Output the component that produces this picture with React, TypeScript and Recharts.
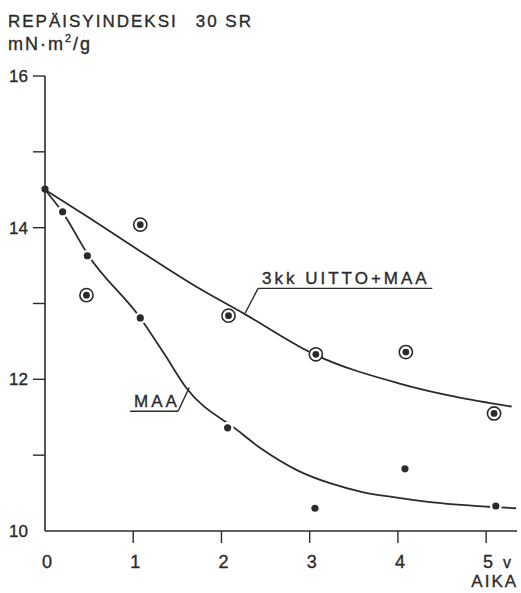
import React from 'react';
import { ComposedChart, Line, Scatter, XAxis, YAxis, ReferenceLine } from 'recharts';

const xTicks = [0, 1, 2, 3, 4, 5];
const yTicks = [10, 11, 12, 13, 14, 15, 16];
const yLabeled = [10, 12, 14, 16];

// mittauspisteet (luettu kuvasta)
const maaPoints = [
  { x: 0, y: 14.51 },
  { x: 0.2, y: 14.21 },
  { x: 0.48, y: 13.63 },
  { x: 1.08, y: 12.81 },
  { x: 2.07, y: 11.36 },
  { x: 3.06, y: 10.3 },
  { x: 4.08, y: 10.82 },
  { x: 5.11, y: 10.33 },
];

const uittoPoints = [
  { x: 0.47, y: 13.11 },
  { x: 1.08, y: 14.04 },
  { x: 2.08, y: 12.84 },
  { x: 3.07, y: 12.33 },
  { x: 4.09, y: 12.36 },
  { x: 5.09, y: 11.55 },
];

// käsin piirretyt käyrät
const maaCurve = [
  { x: 0, y: 14.5 },
  { x: 0.2, y: 14.2 },
  { x: 0.5, y: 13.62 },
  { x: 1.08, y: 12.81 },
  { x: 1.35, y: 12.34 },
  { x: 1.6, y: 11.89 },
  { x: 2.18, y: 11.33 },
  { x: 2.47, y: 11.07 },
  { x: 2.86, y: 10.8 },
  { x: 3.23, y: 10.63 },
  { x: 3.61, y: 10.51 },
  { x: 3.99, y: 10.44 },
  { x: 4.37, y: 10.38 },
  { x: 5.02, y: 10.32 },
  { x: 5.34, y: 10.3 },
];

const uittoCurve = [
  { x: 0, y: 14.5 },
  { x: 0.5, y: 14.13 },
  { x: 1.08, y: 13.69 },
  { x: 1.76, y: 13.19 },
  { x: 2.25, y: 12.87 },
  { x: 3.07, y: 12.32 },
  { x: 4.03, y: 11.94 },
  { x: 5.29, y: 11.64 },
];

// selitteiden viivat, datayksiköissä
const uittoUnder = [{ x: 2.415, y: 13.2 }, { x: 4.39, y: 13.2 }];
const uittoLeader = [{ x: 2.415, y: 13.2 }, { x: 2.27, y: 12.875 }];
const maaUnder = [{ x: 0.964, y: 11.58 }, { x: 1.508, y: 11.58 }];
const maaLeader = [{ x: 1.508, y: 11.58 }, { x: 1.635, y: 11.89 }];

const INK = '#2b2b2b';
const FONT = '"Liberation Sans", Arial, sans-serif';
const TEXT_STROKE = { stroke: INK, strokeWidth: 0.35 };

const DotShape = (props: any) => {
  const { cx, cy, payload } = props;
  const halo = payload && payload.x !== 0;
  return (
    <g>
      {halo && <circle cx={cx} cy={cy} r={6} fill="#fff" />}
      <circle cx={cx} cy={cy} r={3.6} fill={INK} />
    </g>
  );
};

const RingShape = (props: any) => {
  const { cx, cy } = props;
  return (
    <g>
      <circle cx={cx} cy={cy} r={6.6} fill="#fff" stroke={INK} strokeWidth={1.6} />
      <circle cx={cx} cy={cy} r={3.4} fill={INK} />
    </g>
  );
};

const YTick = (props: any) => {
  const { x, y, payload } = props;
  const v = payload.value;
  return (
    <g>
      {v !== 10 && <line x1={x - 12} x2={x} y1={y} y2={y} stroke={INK} strokeWidth={1.4} />}
      {yLabeled.includes(v) && (
        <text x={x - 17} y={y} dy={6} textAnchor="end" fontSize={17} fill={INK} fontFamily={FONT} {...TEXT_STROKE}>
          {v}
        </text>
      )}
    </g>
  );
};

const XTick = (props: any) => {
  const { x, y, payload } = props;
  const v = payload.value;
  return (
    <g fontFamily={FONT} fill={INK} {...TEXT_STROKE}>
      {v !== 0 && <line x1={x} x2={x} y1={y} y2={y + 12} stroke={INK} strokeWidth={1.4} />}
      <text x={x + 2} y={y + 37} textAnchor="middle" fontSize={18}>
        {v}
      </text>
      {v === 5 && (
        <>
          <text x={x + 17} y={y + 37} fontSize={16}>v</text>
          <text x={x + 32} y={y + 56} textAnchor="end" fontSize={17} letterSpacing={2}>AIKA</text>
        </>
      )}
    </g>
  );
};

const annoLabel = (text: string) => (p: any) => {
  const vb = p.viewBox || {};
  return (
    <text x={vb.x + 4} y={vb.y - 4} fontSize={17} letterSpacing={3} fill={INK} fontFamily={FONT} {...TEXT_STROKE}>
      {text}
    </text>
  );
};

export default function App() {
  return (
    <div style={{ position: 'absolute', left: 0, top: 0, width: 521, height: 593, background: '#fff' }}>
      <ComposedChart width={521} height={593} margin={{ top: 76, right: 4, bottom: 0, left: 0 }}>
        <XAxis
          dataKey="x"
          type="number"
          domain={[0, 5.35]}
          ticks={xTicks}
          height={62}
          tickSize={0}
          tickMargin={0}
          tickLine={false}
          axisLine={{ stroke: INK, strokeWidth: 1.6 }}
          tick={<XTick />}
          interval={0}
        />
        <YAxis
          dataKey="y"
          type="number"
          domain={[10, 16]}
          ticks={yTicks}
          width={45}
          tickSize={0}
          tickMargin={0}
          tickLine={false}
          axisLine={{ stroke: INK, strokeWidth: 1.6 }}
          tick={<YTick />}
          interval={0}
        />
        <Line data={uittoCurve} dataKey="y" type="monotone" stroke={INK} strokeWidth={1.8} dot={false} activeDot={false} isAnimationActive={false} />
        <Line data={maaCurve} dataKey="y" type="monotone" stroke={INK} strokeWidth={1.8} dot={false} activeDot={false} isAnimationActive={false} />
        <ReferenceLine segment={uittoUnder} stroke={INK} strokeWidth={1.4} label={{ content: annoLabel('3kk UITTO+MAA') }} />
        <ReferenceLine segment={uittoLeader} stroke={INK} strokeWidth={1.4} />
        <ReferenceLine segment={maaUnder} stroke={INK} strokeWidth={1.4} label={{ content: annoLabel('MAA') }} />
        <ReferenceLine segment={maaLeader} stroke={INK} strokeWidth={1.4} />
        <Scatter data={uittoPoints} dataKey="y" shape={<RingShape />} isAnimationActive={false} />
        <Scatter data={maaPoints} dataKey="y" shape={<DotShape />} isAnimationActive={false} />
      </ComposedChart>
      <svg width={521} height={70} style={{ position: 'absolute', left: 0, top: 0, pointerEvents: 'none' }}>
        <g fontFamily={FONT} fill={INK} fontSize={17} {...TEXT_STROKE}>
          <text x={8} y={27} letterSpacing={2}>
            REPÄISYINDEKSI<tspan dx={18}>30 SR</tspan>
          </text>
          <text x={8} y={50} fontSize={18} letterSpacing={2}>
            mN·m<tspan fontSize={11} dy={-8}>2</tspan>
            <tspan dy={8}>/g</tspan>
          </text>
        </g>
      </svg>
    </div>
  );
}
